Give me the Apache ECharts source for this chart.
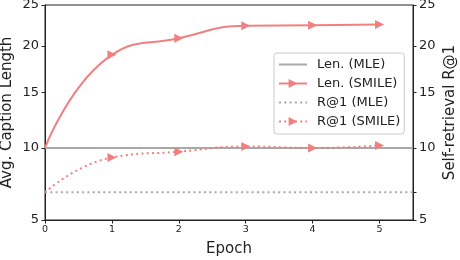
<!DOCTYPE html>
<html><head><meta charset="utf-8">
<script src="https://cdn.jsdelivr.net/npm/echarts@6/dist/echarts.min.js"></script>
<style>html,body{margin:0;padding:0;background:#fff}#c{width:460px;height:260px}</style>
</head><body><div id="c"></div>
<script>
// ---- data ----
const epochs = [0, 1, 2, 3, 4, 5];
const mleEpochs = [0, 5.5];
const lenMLE = [10, 10];
const lenSMILE = [10, 19.0, 20.9, 22.4, 22.45, 22.55];
const r1MLE = [6.72, 6.72];
const r1SMILE = [6.72, 9.24, 9.7, 10.12, 10.0, 10.2];
const yTicks = [5, 10, 15, 20, 25];
const xTicks = [0, 1, 2, 3, 4, 5];
const rightMinorTicks = [6.72];
const legendNames = ['Len. (MLE)', 'Len. (SMILE)', 'R@1 (MLE)', 'R@1 (SMILE)'];

// sqrt scale transform
const f = Math.sqrt;
const inv = v => v * v;
const pts = (xs, ys, markerFrom) => xs.map((x, i) => {
  const p = { value: [x, f(ys[i])] };
  if (markerFrom !== undefined && i < markerFrom) p.symbol = 'none';
  return p;
});

const RED = '#F08080';
const GRAY = '#A8A8A8';
const FONT = 'DejaVu Sans';
const DOT = [2, 3.3];

const yAxisBase = (pos) => ({
  type: 'value', position: pos,
  min: f(yTicks[0]), max: f(yTicks[yTicks.length - 1]),
  splitLine: { show: false },
  axisLine: { show: true, lineStyle: { color: '#222', width: 1 } },
  axisTick: { show: true, length: 3.5, lineStyle: { color: '#222' },
    customValues: (pos === 'right' ? yTicks.concat(rightMinorTicks) : yTicks).map(f) },
  axisLabel: { customValues: yTicks.map(f), formatter: v => String(Math.round(inv(v))),
    fontFamily: FONT, fontSize: 13, color: '#222', margin: 6 },
  nameLocation: 'middle', nameRotate: 90, nameMoveOverlap: false,
  nameTextStyle: { fontFamily: FONT, fontSize: 15, color: '#222' }
});

const hiddenSym = { color: 'rgba(0,0,0,0)', borderColor: 'rgba(0,0,0,0)', borderWidth: 0, opacity: 0 };

const chart = echarts.init(document.getElementById('c'), null, { renderer: 'canvas' });
chart.setOption({
  animation: false,
  backgroundColor: '#fff',
  grid: { left: 45, right: 47, top: 5, bottom: 40, show: true, borderColor: '#222', borderWidth: 1,
    containLabel: false, outerBoundsMode: 'none' },
  xAxis: {
    type: 'value', min: 0, max: 5.5,
    splitLine: { show: false },
    axisLine: { show: true, lineStyle: { color: '#222' } },
    axisTick: { show: true, length: 3.5, lineStyle: { color: '#222' }, customValues: xTicks },
    axisLabel: { customValues: xTicks, fontFamily: FONT, fontSize: 9.5, color: '#222', margin: 5 },
    name: 'Epoch', nameLocation: 'middle', nameGap: 22, nameMoveOverlap: false,
    nameTextStyle: { fontFamily: FONT, fontSize: 15, color: '#222' }
  },
  yAxis: [
    Object.assign(yAxisBase('left'), { name: 'Avg. Caption Length', nameGap: 30 }),
    Object.assign(yAxisBase('right'), { name: 'Self-retrieval R@1', nameGap: 30, nameRotate: 90 })
  ],
  legend: {
    orient: 'vertical', left: 274, top: 53,
    padding: [5, 4, 6, 4], itemGap: 6, itemWidth: 28, itemHeight: 11,
    borderColor: '#ccc', borderWidth: 1, borderRadius: 3,
    backgroundColor: 'rgba(255,255,255,0.8)',
    textStyle: { fontFamily: FONT, fontSize: 13, color: '#222', padding: [0, 0, 0, 5] },
    data: [
      { name: legendNames[0], itemStyle: hiddenSym },
      { name: legendNames[1] },
      { name: legendNames[2], itemStyle: hiddenSym },
      { name: legendNames[3] }
    ]
  },
  series: [
    { name: legendNames[0], type: 'line', yAxisIndex: 0, data: pts(mleEpochs, lenMLE),
      symbol: 'none', color: GRAY, lineStyle: { color: GRAY, width: 2 }, z: 2 },
    { name: legendNames[1], type: 'line', yAxisIndex: 0, data: pts(epochs, lenSMILE, 1),
      smooth: 0.5, symbol: 'triangle', symbolSize: 9, symbolRotate: -90, showAllSymbol: true,
      color: RED, itemStyle: { color: RED }, lineStyle: { color: RED, width: 2 }, z: 3 },
    { name: legendNames[2], type: 'line', yAxisIndex: 1, data: pts(mleEpochs, r1MLE),
      symbol: 'none', color: GRAY, lineStyle: { color: GRAY, width: 2, type: DOT }, z: 2 },
    { name: legendNames[3], type: 'line', yAxisIndex: 1, data: pts(epochs, r1SMILE, 1),
      smooth: 0.5, symbol: 'triangle', symbolSize: 9, symbolRotate: -90, showAllSymbol: true,
      color: RED, itemStyle: { color: RED }, lineStyle: { color: RED, width: 2, type: DOT }, z: 3 }
  ]
});
</script></body></html>
